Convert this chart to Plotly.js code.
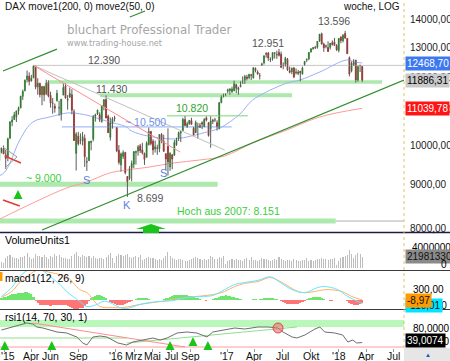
<!DOCTYPE html>
<html>
<head>
<meta charset="utf-8">
<script src="https://cdn.plot.ly/plotly-3.0.1.min.js"></script>
<style>
html,body{margin:0;padding:0;background:#fff;overflow:hidden}
#chart{width:450px;height:361px}
</style>
</head>
<body>
<div id="chart"></div>
<script>
// ================= DATA =================
const firstWeek = '2014-12-15'; // Monday of first weekly candle
const open = [
9590,9800,9900,
9740,9690,10190,10640, 10710,10790,10960,11050, 11400,11580,11920,12040,11880, 11980,12370,11690,11800, 11450,11700,11480,11840, 11430,11190,11100,11270,11050, 10860,11440,11720,11280, 11380,11450,10940,9780,10240, 10120,10110,10180,9560, 9590,10060,10160,10800, 10870,10850,10660,11090,11300, 10810,10210,10590,10760,
10480,9860,9480,9700, 9800,9190,9140,9410,9500, 9800,9840,9980,9870, 9780,9680,10010,10370, 10100,9900,9920,9900,10290, 10100,9770,9960,9430, 9740,9730,10010,10180, 10330,10400,10710,10520,10590, 10680,10460,10340,10500, 10540,10620,10500,10760,10620, 10450,10690,10700,10620, 10440,11210,11380,11450,
11560,11580,11550,11570,11760, 11610,11700,11800,11830, 12010,11990,12080,11980, 12290,12170,12050,12410, 12480,12790,12810,12580,12620, 12800,12740,12830,12770, 12390,12430,12600,12210,12180, 12300,12140,12120,12200, 12100,12420,12570,12610, 12840,12960,13000,13010,13230, 13490,13120,13040,13000, 13010,13170,13200,13070,
12900,13370,13240,13500,13320, 12650,12210,12420,12560, 11860,12380,12350];
const high = [
9810,9930,9990,
9870,10200,10650,10810, 10930,10970,11090,11420, 11610,11930,12220,12160,12080, 12390,12380,11970,11830, 11720,11730,11920,11900, 11540,11350,11180,11600,11270, 11320,11800,11800,11440, 11670,11620,11010,10350,10360, 10320,10360,10290,9680, 10100,10120,10840,10880, 11000,10920,11130,11320,11430, 10850,10770,10780,10820,
10490,10000,9800,9860, 9820,9200,9450,9590,9840, 9850,10000,10030,10060, 9800,10100,10480,10390, 10160,10120,10010,10300,10330, 10280,9780,10460,9810, 9760,10140,10200,10370, 10380,10760,10810,10650,10700, 10760,10500,10680,10620, 10610,10660,10750,10800,10640, 10800,10730,10760,10690, 11230,11430,11480,11490,
11640,11650,11700,11890,11790, 11700,11870,12030,12080, 12080,12110,12110,12320, 12320,12230,12140,12480, 12720,12840,12840,12660,12840, 12830,12890,12951,12860, 12490,12680,12640,12350,12320, 12340,12290,12240,12200, 12350,12540,12620,12840, 12970,13020,13060,13230,13480, 13530,13170,13100,13220, 13160,13250,13340,13120,
13330,13400,13480,13596,13330, 12690,12520,12600,12580, 12380,12410,12370];
const low = [
9219,9780,9760,
9380,9570,10160,10520, 10700,10640,10850,11040, 11290,11550,11830,11740,11860, 11970,11620,11450,11370, 11130,11250,11440,11370, 11060,10880,10910,11240,10820, 10680,11430,11330,11000, 11350,10860,10110,9338,9990, 10020,9990,9430,9325, 9580,9860,10100,10650, 10840,10640,10620,10980,10750, 10330,10120,10450,10650,
9810,9490,9310,9630, 9240,8699,9100,9070,9400, 9490,9720,9790,9750, 9480,9670,9990,9990, 9740,9800,9740,9810,10050, 9820,9350,9214,9330, 9370,9720,9980,10110, 10080,10390,10520,10470,10560, 10570,10260,10330,10170, 10470,10440,10500,10660,10230, 9930,10580,10640,10400, 10440,11190,11370,11400,
11490,11450,11500,11560,11500, 11450,11680,11790,11790, 11900,11930,11910,11960, 12160,12080,11930,12370, 12420,12650,12540,12500,12550, 12620,12610,12690,12310, 12260,12350,12210,12130,12100, 11970,12090,12070,11870, 12100,12380,12500,12560, 12840,12920,12950,12960,13200, 13100,12850,12970,12850, 12930,13070,13070,12880,
12830,13150,13180,13300,12780, 12030,12160,12370,11830, 11860,12170,11850];
const close = [
9787,9922,9764,
9648,10168,10649,10694, 10846,10963,11050,11402, 11551,11901,12040,11868,11967, 12375,11688,11811,11454, 11709,11447,11815,11414, 11197,11197,11040,11492,11058, 11316,11673,11347,11308, 11490,10985,10124,10298,10038, 10123,10229,9688,9553, 10096,10104,10795,10850, 10988,10708,11119,11293,10752, 10340,10608,10728,10743,
9849,9545,9765,9798, 9286,8967,9388,9513,9824, 9831,9950,9851,9794, 9622,10051,10373,10039, 9870,9952,9916,10287,10103, 9834,9631,9557,9776, 9629,10066,10147,10337, 10367,10713,10544,10588,10684, 10573,10276,10627,10511, 10490,10580,10711,10696,10259, 10668,10664,10700,10513, 11203,11404,11450,11481,
11599,11629,11630,11814,11651, 11666,11757,11804,12027, 11963,12095,12064,12313, 12225,12109,12049,12438, 12717,12770,12638,12602,12823, 12816,12752,12733,12325, 12389,12631,12240,12162,12298, 12014,12165,12168,12143, 12304,12518,12592,12828, 12956,12992,12991,13217,13478, 13127,12994,13060,12861, 13153,13104,13072,12918,
13319,13245,13434,13340,12785, 12107,12452,12483,11913, 12346,12390,11886.31];
// weekly volume, millions of units
const volumeM = [
22,12,10,
20,25,27,23, 21,20,19,22, 23,25,30,22,18, 20,28,25,24, 23,26,22,19, 24,22,28,25,26, 23,21,20,19, 18,25,29,33,24, 22,26,25,23, 24,21,25,20, 19,20,21,18,23, 26,30,20,10,
25,28,27,24, 26,29,23,21,22, 24,22,26,16, 18,20,22,20, 21,19,17,18,16, 21,25,32,24, 20,19,17,18, 18,17,15,14,16, 18,20,23,21, 18,17,18,17,19, 24,23,18,18, 22,20,24,9,
15,17,18,16,19, 17,16,15,18, 20,17,22,16, 17,14,16,20, 19,18,17,15,17, 18,16,23,19, 17,15,16,17,14, 19,16,14,15, 16,17,21,15, 16,15,17,19,18, 20,19,18,17, 19,18,21,7,
14,20,22,24,26, 36,28,20,26, 30,29,21.98133];
// weekly MACD histogram
const macdHist = [
20,40,60,70,90,120,140,150,160,170,180,190,200,210,190,150,
60,-40,
-100,-140,-160,-160,-150,-160,-170,-150,-140,-150,-160,-150,-140,-150,-170,-200,-230,-250,-255,-250,-240,-220,-180,-120,-40,
30,70,100,110,110,100,80,40,
-20,-60,-100,-130,-150,-160,-160,-150,-130,-100,-70,-40,-10,
20,40,50,50,40,30,10,
-10,-20,-25,-20,-15,-10,
10,30,50,70,90,110,120,130,135,130,120,110,100,90,70,50,30,10,
-10,-20,-30,-25,-15,
10,30,50,70,90,100,110,100,90,80,70,50,30,10,
-5,-10,-15,-10,-5,5,5,-10,
10,20,30,40,40,35,30,20,10,
-20,-50,-80,-100,-120,-130,-135,-135,-130,-110,-90,-60,-30,
10,30,50,70,80,80,70,50,20,
-10,-20,-30,-30,-25,-20,-15,-10,-5,-10,
-40,-90,-130,-150,-160,-150,-130,-101];
const macdDates = ['2014-12-22','2015-01-25','2015-02-20','2015-03-19','2015-04-20','2015-05-13','2015-05-30','2015-07-02','2015-07-24','2015-09-05','2015-09-28','2015-10-31','2015-11-20','2015-12-12','2016-01-14','2016-02-06','2016-03-20','2016-04-22','2016-05-25','2016-07-07','2016-08-21','2016-10-03','2016-11-14','2016-12-23','2017-01-25','2017-02-27','2017-04-11','2017-05-21','2017-06-23','2017-08-01','2017-09-12','2017-10-25','2017-11-16','2017-12-29','2018-01-31','2018-03-19'];
const macdLine = [82,330,630,800,850,750,630,410,220,-55,-190,-135,-55,-80,-220,-245,-135,-80,-55,-30,55,80,110,270,410,465,520,620,465,270,190,330,355,270,80,-110.01];
const signalDates = ['2014-12-22','2015-01-25','2015-02-20','2015-03-19','2015-04-20','2015-05-30','2015-07-02','2015-07-24','2015-09-05','2015-09-28','2015-11-10','2015-12-22','2016-01-24','2016-03-20','2016-05-25','2016-08-21','2016-11-14','2016-12-23','2017-01-25','2017-02-27','2017-04-11','2017-05-21','2017-06-29','2017-08-01','2017-09-02','2017-10-15','2017-11-16','2018-01-11','2018-02-13','2018-03-19'];
const signalLine = [60,220,465,650,800,740,680,630,270,190,-190,-220,-220,-135,-55,55,135,220,355,440,490,600,465,300,190,220,270,220,80,-8.97];
const rsiDates = ['2014-12-22','2015-01-28','2015-03-15','2015-04-04','2015-04-17','2015-05-07','2015-05-30','2015-06-22','2015-07-24','2015-08-26','2015-09-15','2015-09-28','2015-10-18','2015-11-10','2015-12-03','2015-12-22','2016-01-08','2016-02-06','2016-02-26','2016-03-30','2016-05-02','2016-05-25','2016-06-17','2016-07-20','2016-08-21','2016-09-23','2016-10-26','2016-11-14','2016-12-23','2017-01-25','2017-02-27','2017-04-11','2017-05-14','2017-06-16','2017-07-02','2017-08-01','2017-08-17','2017-09-12','2017-10-15','2017-10-31','2017-11-16','2017-12-19','2018-01-14','2018-01-31','2018-02-16','2018-03-01','2018-03-19'];
const rsiValues = [64,70,78,76,70,68,64,60,58,50,38,34,50,52,50,44,38,34,40,44,48,44,48,58,60,58,50,60,64,68,66,70,70,68,60,50,48,54,66,70,60,58,54,40,44,38,39.0074];
const ma50Dates = ['2014-12-15','2015-01-02','2015-01-19','2015-02-20','2015-04-04','2015-05-30','2015-07-24','2015-08-13','2015-09-28','2015-10-31','2015-12-12','2016-02-06','2016-02-16','2016-03-30','2016-05-25','2016-07-07','2016-08-21','2016-10-13','2016-12-07','2017-02-11','2017-03-25','2017-07-15','2017-08-27','2017-10-31','2018-01-27','2018-02-23','2018-03-19'];
const ma50 = [9200,9301,9528,10136,10640,10785,10900,10900,10840,10753,10640,10497,10413,10275,10193,10165,10219,10330,10469,10870,11290,11815,11912,12172,12571,12503,12468.70];
const ma200Dates = ['2014-12-15','2015-04-04','2015-07-24','2015-09-28','2015-12-12','2016-02-06','2016-04-22','2016-07-07','2016-10-03','2016-12-23','2017-03-25','2017-07-15','2017-10-31','2018-03-19'];
const ma200 = [8190,8556,8910,9055,9277,9352,9428,9528,9607,9710,10056,10413,10785,11039.78];
const xTickVals = ['2015-01-01','2015-04-01','2015-06-01','2015-09-01','2016-01-01','2016-03-01','2016-05-01','2016-07-01','2016-09-01','2017-01-01','2017-04-01','2017-07-01','2017-10-01','2018-01-01','2018-04-01','2018-07-01'];
const xTickText = ["'15",'Apr','Jun','Sep',"'16",'Mrz','Mai','Jul','Sep',"'17",'Apr','Jul','Okt',"'18",'Apr','Jul'];
const yTickVals = [8000,9000,10000,11000,12000,13000,14000];
const yTickText = ['8000,00','9000,00','10000,00','11000,00','12000,00','13000,00','14000,00'];
// drawn levels & trend lines: [date, value]
const line12390 = [['2015-04-06',12390],['2018-08-03',12390]];
const band11850 = [['2015-05-23',11850],['2018-05-23',11850]];
const band11430 = [['2015-11-10',11430],['2017-08-01',11430]];
const line10820 = [['2016-06-17',10820],['2017-03-09',10820]];
const line10500 = [['2015-07-08',10500],['2017-01-15',10500]];
const band9000  = [['2014-12-10',9000],['2016-11-30',9000]];
const band8151  = [['2014-12-10',8151],['2017-12-22',8151]];
const line8151  = [['2017-12-22',8151],['2018-08-03',8151]];
const upTrend   = [['2015-05-04',7958],['2018-08-03',11912]];
const channel1  = [['2014-12-27',12203],['2015-06-22',12945]];
const channel2  = [['2016-02-16',14112],['2016-04-06',14340]];
const redDown   = [['2015-04-06',12390],['2016-07-30',9815]];
const grayDown  = [['2015-04-06',12390],['2016-12-23',9868]];
const redShort1 = [['2015-01-02',9710],['2015-02-24',9528]];
const redShort2 = [['2014-12-27',8627],['2015-02-20',8488]];
const grayTri   = [['2014-12-27',9947],['2015-02-11',9685],['2015-01-02',9403]];
const rsiBand = [70,84];
const rsiLow = 30;
const rsiFlat = [['2014-12-10',48],['2016-02-06',48]];
const rsiUp   = [['2016-02-06',38],['2017-08-17',70]];
const rsiDown = [['2015-04-04',78],['2016-08-15',30]];
const rsiMarkDates = ['2017-06-16']; const rsiMarkVals = [68];
const rsiArrowDates = ['2015-01-02','2015-06-05','2016-06-27','2016-09-10','2016-10-29'];
const rsiArrowVals = [42,42,42,50,42];

// ================= BUILD =================
const weeks = [];
{ const t0 = Date.parse(firstWeek + 'T00:00:00Z');
  for (let i = 0; i < close.length; i++) weeks.push(new Date(t0 + i*7*864e5).toISOString().slice(0,10)); }
const XR = ['2014-12-17 06:00','2018-08-03'];
const PW = 404, PH = 348;
const X = p => p/PW, Y = p => (PH-p)/PH;
const FONT = 'Liberation Sans, Arial, sans-serif';

const traces = [];
function seg(pts, yaxis, color, width, extra) {
  traces.push(Object.assign({type:'scatter', mode:'lines', x:pts.map(p=>p[0]), y:pts.map(p=>p[1]),
    xaxis:'x', yaxis:yaxis, line:{color:color, width:width}, hoverinfo:'skip'}, extra||{}));
}
// bands & levels (main)
seg(line12390,'y','#c6c6c6',1);
seg(band11850,'y','#ade9ad',3.5);
seg(band11430,'y','#ade9ad',4);
seg(line10820,'y','#a6e3a6',1.5);
seg(line10500,'y','#92acf2',1);
seg(band9000,'y','#ade9ad',5);
seg(band8151,'y','#ade9ad',5);
seg(line8151,'y','#b0b0b0',1);
// moving averages
traces.push({type:'scatter',mode:'lines',x:ma200Dates,y:ma200,xaxis:'x',yaxis:'y',line:{color:'#ff9a9a',width:1,shape:'spline'},hoverinfo:'skip'});
traces.push({type:'scatter',mode:'lines',x:ma50Dates,y:ma50,xaxis:'x',yaxis:'y',line:{color:'#9ab2f5',width:1,shape:'spline'},hoverinfo:'skip'});
// wicks
const wx=[], wy=[];
weeks.forEach((d,i)=>{ wx.push(d,d,null); wy.push(low[i],high[i],null); });
traces.push({type:'scatter',mode:'lines',x:wx,y:wy,xaxis:'x',yaxis:'y',line:{color:'#5a5a5a',width:1},hoverinfo:'skip',connectgaps:false});
// candle bodies
traces.push({type:'candlestick',x:weeks,open:open,close:close,
  high:open.map((o,i)=>Math.max(o,close[i])), low:open.map((o,i)=>Math.min(o,close[i])),
  xaxis:'x',yaxis:'y',whiskerwidth:0,hoverinfo:'skip',
  increasing:{line:{color:'#00a000',width:0.6},fillcolor:'#00b800'},
  decreasing:{line:{color:'#d00000',width:0.6},fillcolor:'#e80000'}});
// trend lines
seg(grayDown,'y','#c0c0c0',1);
seg(redDown,'y','#ff8c8c',1);
seg(upTrend,'y','#2f8f2f',1.2);
seg(channel1,'y','#2f8f2f',1.2);
seg(channel2,'y','#2f8f2f',1.2);
seg(redShort1,'y','#e23b3b',1.5);
seg(redShort2,'y','#e23b3b',1.5);
seg(grayTri,'y','#9a9a9a',1);
// volume
traces.push({type:'bar',x:weeks,y:volumeM.map(v=>v*1e6),xaxis:'x',yaxis:'y2',width:3.5*864e5,
  marker:{color:'#bdbdbd',line:{width:0}},hoverinfo:'skip'});
// MACD
traces.push({type:'bar',x:weeks,y:macdHist,xaxis:'x',yaxis:'y3',width:7*864e5,
  marker:{color:macdHist.map(v=>v>=0?'#6ee66e':'#ff7474'),line:{width:0}},hoverinfo:'skip'});
traces.push({type:'scatter',mode:'lines',x:signalDates,y:signalLine,xaxis:'x',yaxis:'y3',line:{color:'#ffb266',width:1,shape:'spline'},hoverinfo:'skip'});
traces.push({type:'scatter',mode:'lines',x:macdDates,y:macdLine,xaxis:'x',yaxis:'y3',line:{color:'#66e6ff',width:1,shape:'spline'},hoverinfo:'skip'});
// RSI
seg([[XR[0],rsiLow],[XR[1],rsiLow]],'y4','#ff9c9c',1.2);
seg(rsiFlat,'y4','#8ee08e',1.2);
seg(rsiUp,'y4','#8ee08e',1.2);
seg(rsiDown,'y4','#ff8c8c',1);
traces.push({type:'scatter',mode:'lines',x:rsiDates,y:rsiValues,xaxis:'x',yaxis:'y4',line:{color:'#6e6e6e',width:1},hoverinfo:'skip'});
traces.push({type:'scatter',mode:'markers',x:rsiMarkDates,y:rsiMarkVals,xaxis:'x',yaxis:'y4',
  marker:{size:10,color:'rgba(240,110,110,0.6)',line:{color:'#d05050',width:1}},hoverinfo:'skip'});

// ---------- annotations ----------
const ann = [];
function txt(text,x,y,o){ o=o||{};
  const a={xref:'paper',yref:'paper',x:X(x),y:Y(y),text:text,showarrow:false,
    xanchor:o.xa||'center',yanchor:'middle',
    font:{family:o.fam||FONT,size:o.size||10.5,color:o.color||'#000'}};
  if(o.bg){a.bgcolor=o.bg;a.borderpad=o.bp===undefined?1:o.bp;}
  ann.push(a);
}
txt('DAX move1(200, 0) move2(50, 0)',3,7,{xa:'left',size:10,color:'#111'});
txt('woche, LOG',402,7,{xa:'right',size:10,color:'#111'});
txt('bluchart Professional Trader',65,30,{xa:'left',fam:'DejaVu Sans, sans-serif',size:11.8,color:'#a6a6a6'});
txt('www.trading-house.net',65,43,{xa:'left',fam:'DejaVu Sans, sans-serif',size:8.2,color:'#a6a6a6'});
txt('12.390',104,60,{color:'#555'});
txt('11.430',111,89,{color:'#555'});
txt('10.820',192,108,{color:'#2ea52e'});
txt('~ 10.500',145,122,{color:'#7090ec'});
txt('~ 9.000',43,178,{color:'#3ccc3c'});
txt('S',86,180,{color:'#5b7fe0',size:11});
txt('S',163,173,{color:'#5b7fe0',size:11});
txt('K',127,205,{color:'#5b7fe0',size:11});
txt('8.699',150,198,{color:'#555'});
txt('Hoch aus 2007: 8.151',229,211,{color:'#3ccc3c'});
txt('12.951',268,43,{color:'#555'});
txt('13.596',334,21,{color:'#555'});
// x tick labels (below the RSI panel); the first one sits flush at the left edge
xTickVals.forEach((d,i)=>ann.push({xref:'x',yref:'paper',x:d,y:Y(355.5),text:xTickText[i],showarrow:false,
  xanchor:'center',xshift:(i===0?3:0),yanchor:'middle',font:{family:FONT,size:10.5,color:'#111'}}));
// right side boxes
txt('12468,70',405,63.5,{xa:'left',bg:'#3c78f0',color:'#fff',size:10});
txt('11886,31',405,81,{xa:'left',bg:'#c9c9c9',color:'#000',size:10});
txt('11039,78',405,109,{xa:'left',bg:'#ff1414',color:'#fff',size:10});
// sub panels
txt('VolumeUnits1',3,240,{xa:'left',size:10.5});
txt('40000000',410,247,{xa:'left',size:10});
txt('21981330',405,256,{xa:'left',bg:'#8a8a8a',color:'#111',size:10});
txt('0',449,264,{xa:'right',size:10});
txt('macd1(12, 26, 9)',3,278,{xa:'left',size:10.5});
txt('300,00',411,289,{xa:'left',size:10});
txt('-100,00',411,305,{xa:'left',size:10});
txt('-110,01',405,305,{xa:'left',bg:'#00e5ff',color:'#111',size:10});
txt('-8,97',405,300,{xa:'left',bg:'#ff9a00',color:'#111',size:10});
txt('rsi1(14, 70, 30, 1)',3,317,{xa:'left',size:10.5});
txt('80,0000',411,328,{xa:'left',size:10});
txt('40,0000',411,341,{xa:'left',size:10});
txt('39,0074',405,340,{xa:'left',bg:'#000',color:'#fff',size:10});
txt('▲',428,355,{size:6,color:'#2a4cc0'});
// arrows
ann.push({xref:'paper',yref:'paper',x:X(18),y:Y(190),ax:0,ay:8,text:'',showarrow:true,arrowhead:2,arrowsize:0.9,arrowwidth:2,arrowcolor:'#19c519'});
rsiArrowDates.forEach((d,i)=>ann.push({xref:'x',yref:'y4',x:d,y:rsiArrowVals[i],ax:0,ay:7,text:'',showarrow:true,arrowhead:2,arrowsize:0.9,arrowwidth:2,arrowcolor:'#19c519'}));

// ---------- shapes ----------
const RX = 450/PW;
const shapes = [
  {type:'rect',xref:'x',yref:'y4',x0:XR[0],x1:XR[1],y0:rsiBand[0],y1:rsiBand[1],fillcolor:'rgba(130,240,130,0.55)',line:{width:0},layer:'below'},
  {type:'line',xref:'paper',yref:'paper',x0:0,x1:RX,y0:Y(232.5),y1:Y(232.5),line:{color:'#1e1e44',width:1.5}},
  {type:'line',xref:'paper',yref:'paper',x0:0,x1:RX,y0:Y(270.5),y1:Y(270.5),line:{color:'#3a3a3a',width:1}},
  {type:'line',xref:'paper',yref:'paper',x0:0,x1:RX,y0:Y(309.5),y1:Y(309.5),line:{color:'#3a3a3a',width:1}},
  {type:'line',xref:'paper',yref:'paper',x0:1,x1:1,y0:0,y1:1,line:{color:'#e2c465',width:1,dash:'dot'}},
  {type:'rect',xref:'paper',yref:'paper',x0:1,x1:RX,y0:Y(348),y1:Y(362),fillcolor:'#e6e6e6',line:{width:0}},
  {type:'rect',xref:'paper',yref:'paper',x0:0,x1:X(2.5),y0:Y(281),y1:Y(272),fillcolor:'#ff9a00',line:{width:0}},
  {type:'path',xref:'paper',yref:'paper',fillcolor:'#19c519',line:{width:0},
   path:'M'+X(136)+','+Y(229)+' L'+X(151)+','+Y(224)+' L'+X(166)+','+Y(229)+' L'+X(159)+','+Y(229)+' L'+X(159)+','+Y(233)+' L'+X(143)+','+Y(233)+' L'+X(143)+','+Y(229)+' Z'}
];

const layout = {
  width:450, height:361, margin:{l:0,r:46,t:0,b:13,pad:0},
  paper_bgcolor:'#fff', plot_bgcolor:'#fff', showlegend:false, hovermode:false,
  font:{family:FONT,size:10.5,color:'#000'},
  bargap:0,
  xaxis:{type:'date',range:XR,anchor:'y4',tickmode:'array',tickvals:xTickVals,ticktext:xTickText,
    showticklabels:false,ticks:'outside',ticklen:3,tickcolor:'#999',showgrid:false,zeroline:false,showline:false,
    rangeslider:{visible:false},fixedrange:true},
  yaxis:{domain:[116/348,1],type:'log',range:[3.89843,4.16946],side:'right',anchor:'x',
    tickmode:'array',tickvals:yTickVals,ticktext:yTickText,showgrid:false,zeroline:false,showline:false,
    ticks:'',ticklabelstandoff:5,tickfont:{family:FONT,size:10,color:'#222'},fixedrange:true},
  yaxis2:{domain:[80/348,114/348],range:[0,68e6],visible:false,anchor:'x',fixedrange:true},
  yaxis3:{domain:[39/348,77/348],range:[-259,778],visible:false,anchor:'x',fixedrange:true},
  yaxis4:{domain:[0,38/348],range:[28,104],visible:false,anchor:'x',fixedrange:true},
  annotations:ann, shapes:shapes
};
Plotly.newPlot('chart',traces,layout,{displayModeBar:false,staticPlot:true});
</script>
</body>
</html>
